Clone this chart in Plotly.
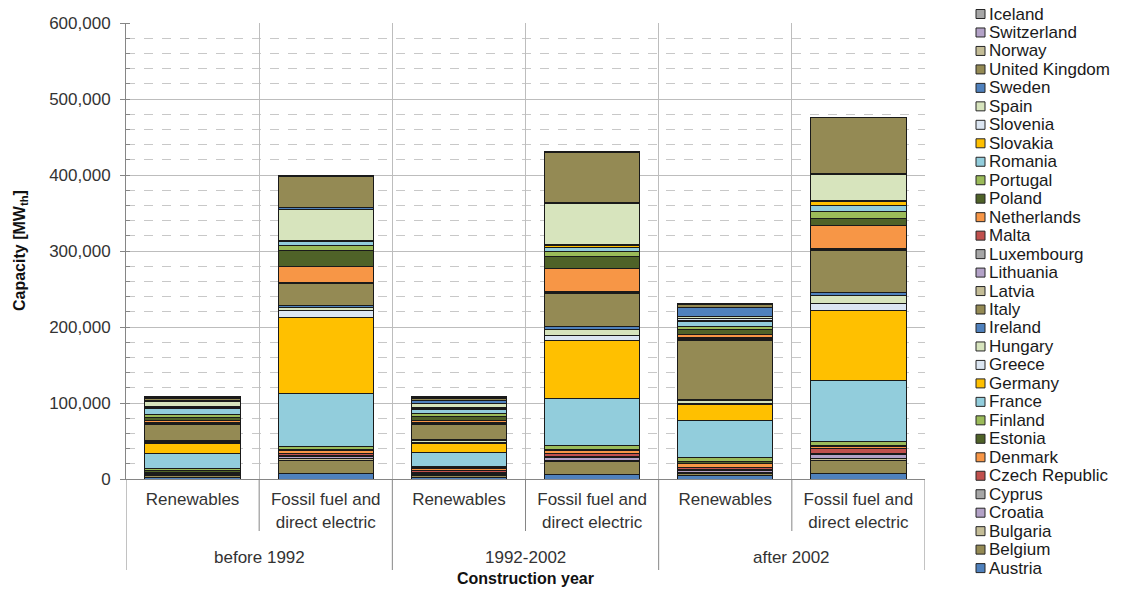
import plotly.graph_objects as go

# stacking order, bottom (Austria) to top (Iceland)
countries = [
    "Austria", "Belgium", "Bulgaria", "Croatia", "Cyprus", "Czech Republic",
    "Denmark", "Estonia", "Finland", "France", "Germany", "Greece", "Hungary",
    "Ireland", "Italy", "Latvia", "Lithuania", "Luxembourg", "Malta",
    "Netherlands", "Poland", "Portugal", "Romania", "Slovakia", "Slovenia",
    "Spain", "Sweden", "United Kingdom", "Norway", "Switzerland", "Iceland",
]

colors = [
    "#4F81BD", "#948A54", "#C4BD97", "#B3A2C7", "#A6A6A6", "#C0504D",
    "#F79646", "#4F6228", "#9BBB59", "#92CDDC", "#FFC000", "#DCE6F2", "#D7E4BD",
    "#4F81BD", "#948A54", "#C4BD97", "#B3A2C7", "#A6A6A6", "#C0504D",
    "#F79646", "#4F6228", "#9BBB59", "#92CDDC", "#FFC000", "#DCE6F2",
    "#D7E4BD", "#4F81BD", "#948A54", "#C4BD97", "#B3A2C7", "#A6A6A6",
]

sub_labels = ["Renewables", "Fossil fuel and<br>direct electric"]
groups = ["before 1992", "1992-2002", "after 2002"]

# capacity in thousand MWth, one list per bar, same order as countries
renew_pre1992 = [2, 2, 1, 0.5, 0.3, 2, 1, 3, 2, 20, 12.5, 1.5, 1.5, 1, 22, 1, 1, 0.5, 0.2,
                 1.5, 5, 3, 8, 1.5, 1, 6.5, 2, 2, 1, 1, 0.5]
fossil_pre1992 = [7.5, 17, 2, 3, 1.5, 3, 3, 2, 4, 69, 101, 9, 4, 2, 29, 0.8, 0.8, 0.3, 0.2,
                  21, 21, 6, 5, 0.8, 1.5, 40, 2.5, 41, 0.5, 0.3, 0.2]
renew_9202 = [2, 3, 1.5, 1, 0.5, 3, 2.5, 1, 2, 19, 11, 2, 2, 1.5, 20, 1, 1, 0.5, 0.3,
              2, 6, 4, 4, 2, 1.5, 5.5, 4, 2, 1, 0.7, 0.5]
fossil_9202 = [6.5, 17, 1.5, 3, 1, 4, 4, 2, 5, 62, 76, 7, 8, 4, 43, 0.8, 0.8, 0.3, 0.3,
               31, 15, 7, 5, 3, 2, 53, 2, 66, 0.5, 0.3, 0.2]
renew_post2002 = [4, 3, 2, 2, 1.5, 3, 5, 2, 6, 49, 20, 2.5, 3, 2, 77, 1.5, 1, 0.5, 1.5,
                  3, 7, 4.5, 6, 2, 2, 3, 12, 4, 0.5, 0.3, 0.2]
fossil_post2002 = [7, 18, 2, 5, 1.5, 6, 3, 1.5, 5, 81, 92, 9, 10, 5, 55, 0.8, 0.6, 0.3, 0.3,
                   30, 10, 9, 8, 4.5, 1.5, 35, 1.5, 73, 0.3, 0.2, 0.2]

bars = [renew_pre1992, fossil_pre1992, renew_9202, fossil_9202, renew_post2002, fossil_post2002]
x_keys = [f"{g}|{s}" for g in groups for s in sub_labels]

FONT = "Liberation Sans, Arial, sans-serif"
AXIS_GREY = "#868686"
TEXT = "#333333"

# the page body adds an 8px offset, so the figure is drawn 8px smaller
OFF = 8
W, H = 1128 - OFF, 593 - OFF
# plot area in screen pixels
L, R, T, B = 126, 925, 23, 479


def px_x(p):
    return (p - L) / (R - L)


def px_y(p):
    return (B - p) / (B - T)


fig = go.Figure()
for i, name in enumerate(countries):
    fig.add_trace(go.Bar(
        x=x_keys,
        y=[b[i] * 1000 for b in bars],
        name=name,
        marker=dict(color=colors[i], line=dict(color="#1a1a1a", width=1)),
        width=0.715,
        showlegend=False,
    ))

fig.update_layout(
    barmode="stack",
    width=W, height=H,
    margin=dict(l=L - OFF, r=1128 - R, t=T - OFF, b=593 - B, autoexpand=False),
    plot_bgcolor="white", paper_bgcolor="white",
    font=dict(family=FONT, size=17, color=TEXT),
    showlegend=False,
)

fig.update_yaxes(
    range=[0, 600000], tickvals=[0, 100000, 200000, 300000, 400000, 500000, 600000],
    tickformat=",", ticks="outside", ticklen=5, tickcolor=AXIS_GREY,
    showline=True, linecolor=AXIS_GREY, linewidth=1, automargin=False,
    showgrid=True, gridcolor="#BDBDBD", gridwidth=1, zeroline=False,
    minor=dict(dtick=20000, showgrid=True, gridcolor="#C8C8C8", griddash="dash",
               ticks="inside", ticklen=4, tickcolor=AXIS_GREY),
    tickfont=dict(size=17, color=TEXT), ticklabelstandoff=6,
)

fig.update_xaxes(
    type="category", tickmode="array", tickvals=x_keys,
    ticktext=sub_labels * 3, tickson="boundaries", automargin=False,
    ticks="", showgrid=True, gridcolor="#BDBDBD", gridwidth=1,
    showline=True, linecolor=AXIS_GREY, linewidth=1,
    range=[-0.5, 5.5], ticklabelstandoff=5,
    tickfont=dict(size=17, color=TEXT),
)

# category separators below the axis
for k in range(7):
    y_end = px_y(570) if k % 2 == 0 else px_y(531)
    fig.add_shape(type="line", xref="x", yref="paper", x0=k - 0.5, x1=k - 0.5,
                  y0=0, y1=y_end, line=dict(color=AXIS_GREY, width=1))

for j, g in enumerate(groups):
    fig.add_annotation(x=x_keys[2 * j], xshift=(R - L) / 12, xref="x", yref="paper",
                       y=px_y(557), yanchor="middle", text=g, showarrow=False,
                       font=dict(size=17, color=TEXT))

fig.add_annotation(x=0.5, xref="paper", yref="paper", y=px_y(578), yanchor="middle",
                   text="<b>Construction year</b>", showarrow=False,
                   font=dict(size=16, color="#111111"))

fig.add_annotation(x=px_x(20), xref="paper", yref="paper", y=px_y(250),
                   xanchor="center", yanchor="middle", textangle=-90,
                   text="<b>Capacity [MW<sub>th</sub>]</b>", showarrow=False,
                   font=dict(size=16, color="#111111"))

# legend drawn as swatches + labels, top entry Iceland
for i, name in enumerate(reversed(countries)):
    cy = 14 + i * 18.47
    col = colors[len(countries) - 1 - i]
    fig.add_shape(type="rect", xref="paper", yref="paper",
                  x0=px_x(976), x1=px_x(985), y0=px_y(cy - 4.5), y1=px_y(cy + 4.5),
                  fillcolor=col, line=dict(color="#262626", width=1))
    fig.add_annotation(x=px_x(987), xref="paper", yref="paper", y=px_y(cy),
                       xanchor="left", yanchor="middle", text=name, showarrow=False,
                       font=dict(size=17, color="#1a1a1a"))

fig.write_html("out.html")
